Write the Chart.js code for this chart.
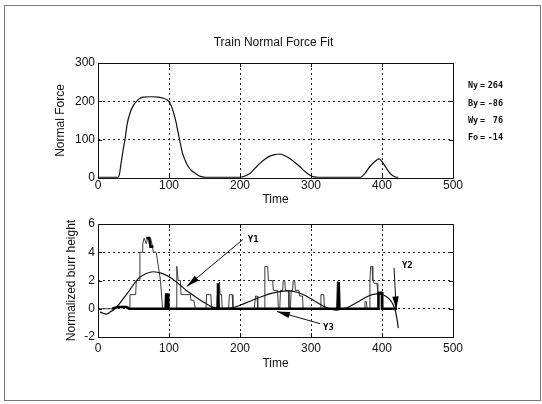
<!DOCTYPE html>
<html>
<head>
<meta charset="utf-8">
<script src="https://cdn.jsdelivr.net/npm/chart.js@4.4.0/dist/chart.umd.min.js"></script>
<style>
  html, body { margin: 0; padding: 0; background: #fff; }
  #fig { position: relative; width: 542px; height: 404px; overflow: hidden; }
  #frame { position: absolute; left: 4px; top: 5px; width: 535px; height: 394px; border: 1px solid #777; }
  #top { position: absolute; left: 0; top: 0; }
  #bottom { position: absolute; left: 0; top: 210px; }
</style>
</head>
<body>
<div id="fig">
  <div id="frame"></div>
  <canvas id="top" width="542" height="210"></canvas>
  <canvas id="bottom" width="542" height="194"></canvas>
</div>
<script>
'use strict';

// ---------- data ----------
let timeTicks = [0, 100, 200, 300, 400, 500];
let forceTicks = [0, 100, 200, 300];
let burrTicks = [-2, 0, 2, 4, 6];

let paramNames = ['Ny', 'By', 'Wy', 'Fo'];
let paramValues = ['264', '-86', '76', '-14'];

// normal force vs time [time, force]
let forceData = [[0, 2], [28, 2], [30, 8], [33, 45], [36, 80], [38, 100], [41, 140], [45, 169], [50, 190],
  [57, 205], [63, 211], [75, 212], [85, 211], [92, 208], [97, 204], [102, 193], [106, 173], [110, 145],
  [113, 117], [116, 90], [119, 65], [123, 45], [127, 30], [132, 19], [137, 12], [142, 6], [147, 3], [152, 2],
  [200, 2], [205, 4], [214, 12], [221, 25], [228, 38], [235, 49], [242, 57], [249, 61], [256, 62.6],
  [263, 58], [270, 51], [277, 41], [284, 30], [291, 18], [298, 8], [304, 3], [310, 2], [370, 2],
  [376, 12], [383, 30], [390, 43], [396, 50], [401, 40], [406, 26], [411, 13], [416, 5], [420, 2], [423, 2]];

// measured burr height (stepped)
let burrMeasured = [[0, 0], [20, 0], [22, 0.1], [44, 0.1], [45, 1], [53, 1], [54, 2], [58, 2], [59, 4], [62, 4],
  [63, 4.6], [65, 5], [68, 4.6], [70, 5], [74, 5], [76, 4.6], [78, 4], [82, 4], [85, 3], [88, 2], [91, 0],
  [94, 0], [95, 1], [99, 1], [100, 0], [110, 0], [111, 3], [113, 2], [116, 2], [117, 1], [130, 1],
  [131, 0.6], [135, 0.6], [137, 0], [152, 0], [153, 1], [159, 1], [160, 0], [167, 0], [168, 1], [170, 1],
  [171, 1.9], [172, 1], [174, 1], [175, 0], [184, 0], [185, 1], [189, 1], [190, 0], [220, 0], [222, 0.9],
  [224, 0.9], [225, 0], [234, 0], [235, 3], [239, 3], [240, 2], [246, 2], [247, 1.3], [253, 1.3], [254, 0],
  [256, 0], [257, 1.3], [260, 1.3], [261, 2], [263, 2], [264, 1.3], [268, 1.3], [269, 0], [271, 0],
  [272, 1.3], [274, 1.3], [275, 2], [277, 2], [278, 1.3], [283, 1.3], [284, 0.9], [288, 0.9], [289, 0],
  [313, 0], [314, 1], [318, 1], [319, 0], [336, 0], [337, 1.9], [339, 1.9], [340, 0], [375, 0], [376, 0.5],
  [378, 0.5], [379, 0], [382, 0], [383, 2], [384, 3], [386, 3], [387, 2], [389, 1.8], [393, 1.8],
  [394, 1.2], [400, 1.2], [401, 0], [420, 0]];

// fitted curve
let burrFit = [[3, -0.22], [7, -0.32], [12, -0.38], [18, -0.2], [24, 0], [30, 0.35], [43, 1.2], [57, 2.15],
  [68, 2.5], [78, 2.62], [90, 2.5], [104, 2.15], [115, 1.7], [127, 1.2], [140, 0.75], [151, 0.4],
  [160, 0.15], [170, 0.03], [180, 0.02], [190, 0.08], [200, 0.25], [215, 0.55], [230, 0.85], [247, 1.12],
  [260, 1.25], [270, 1.27], [282, 1.15], [294, 0.88], [305, 0.55], [317, 0.2], [327, 0], [336, -0.1],
  [345, -0.02], [355, 0.18], [364, 0.42], [375, 0.75], [385, 0.98], [395, 1.06], [403, 0.95],
  [411, 0.64], [416, 0.25], [419, -0.2], [421, -0.7], [423, -1.37]];

// detected burrs (heavy line), null breaks the line
let burrDetected = [[20, 0], [28, 0.12], [40, 0.12], [44, 0], [96, 0], [96, 1], [99, 1], [99, 0], [168, 0],
  [169, 1.8], [170, 0], [338, 0], [339, 1.9], [340, 0], [395, 0], [395, 1.1], [400, 1.1], [400, 0],
  [421, 0], [421, null], [68, 5], [72, 5], [74, 4.4], [78, 4.4]];

// annotation arrows [from, to] in data units, and their labels
let arrowY1 = [[204, 4.9], [125, 1.58]];
let arrowY2 = [[417, 2.9], [420, -0.05]];
let arrowY3 = [[313, -1.06], [252, -0.19]];
let arrowLabels = [['Y1', 211, 4.92], ['Y2', 428, 3.08], ['Y3', 317, -1.31]];

// ---------- helpers ----------
Chart.defaults.color = '#111';
Chart.defaults.font.family = '"Liberation Sans", Arial, sans-serif';
Chart.defaults.font.size = 12;

function toPoints(arr) {
  return arr.map(p => ({ x: p[0], y: p[1] }));
}

function makeAxis(tickList, min, max, extra) {
  let axis = {
    type: 'linear',
    min: min,
    max: max,
    afterBuildTicks: s => { s.ticks = tickList.map(v => ({ value: v })); },
    grid: { color: '#222', lineWidth: 1, drawTicks: false, borderDash: [2, 3] },
    border: { display: false, dash: [2, 3] },
    ticks: { padding: 3, font: { size: 12 } }
  };
  return Object.assign(axis, extra);
}

// axes box + inward ticks
let boxPlugin = {
  id: 'box',
  afterDraw(chart) {
    let { ctx, chartArea: a, scales } = chart;
    ctx.save();
    ctx.strokeStyle = '#111';
    ctx.lineWidth = 1;
    ctx.strokeRect(Math.round(a.left) + 0.5, Math.round(a.top) + 0.5, a.right - a.left, a.bottom - a.top);
    ctx.beginPath();
    scales.x.ticks.forEach(t => {
      let px = Math.round(scales.x.getPixelForValue(t.value)) + 0.5;
      ctx.moveTo(px, a.bottom); ctx.lineTo(px, a.bottom - 4);
      ctx.moveTo(px, a.top); ctx.lineTo(px, a.top + 4);
    });
    scales.y.ticks.forEach(t => {
      let py = Math.round(scales.y.getPixelForValue(t.value)) + 0.5;
      ctx.moveTo(a.left, py); ctx.lineTo(a.left + 4, py);
      ctx.moveTo(a.right, py); ctx.lineTo(a.right - 4, py);
    });
    ctx.stroke();
    ctx.restore();
  }
};

// title and fit parameters for the top axes
let topTextPlugin = {
  id: 'topText',
  afterDraw(chart) {
    let { ctx, chartArea: a } = chart;
    ctx.save();
    ctx.fillStyle = '#111';
    ctx.font = '12px "Liberation Sans", Arial, sans-serif';
    ctx.textAlign = 'center';
    ctx.textBaseline = 'middle';
    ctx.fillText('Train Normal Force Fit', (a.left + a.right) / 2 - 2, 43);

    ctx.font = 'bold 8.5px "DejaVu Sans Mono", monospace';
    for (let i = 0; i < paramNames.length; i++) {
      let y = a.top + 23 + i * 17.3;
      ctx.textAlign = 'left';
      ctx.fillText(paramNames[i], a.right + 15, y);
      ctx.fillText('=', a.right + 27, y);
      ctx.textAlign = 'right';
      ctx.fillText(paramValues[i], a.right + 50, y);
    }
    ctx.restore();
  }
};

function drawArrow(chart, arrow) {
  let { ctx, scales } = chart;
  let x0 = scales.x.getPixelForValue(arrow[0][0]);
  let y0 = scales.y.getPixelForValue(arrow[0][1]);
  let x1 = scales.x.getPixelForValue(arrow[1][0]);
  let y1 = scales.y.getPixelForValue(arrow[1][1]);
  let ang = Math.atan2(y1 - y0, x1 - x0);
  ctx.beginPath();
  ctx.moveTo(x0, y0);
  ctx.lineTo(x1, y1);
  ctx.stroke();
  let len = 13, half = 3.2;
  let bx = x1 - Math.cos(ang) * len;
  let by = y1 - Math.sin(ang) * len;
  ctx.beginPath();
  ctx.moveTo(x1, y1);
  ctx.lineTo(bx - Math.sin(ang) * half, by + Math.cos(ang) * half);
  ctx.lineTo(bx + Math.sin(ang) * half, by - Math.cos(ang) * half);
  ctx.closePath();
  ctx.fill();
}

let arrowPlugin = {
  id: 'arrows',
  afterDatasetsDraw(chart) {
    let { ctx, scales } = chart;
    ctx.save();
    ctx.strokeStyle = '#111';
    ctx.fillStyle = '#000';
    ctx.lineWidth = 1;
    drawArrow(chart, arrowY1);
    drawArrow(chart, arrowY2);
    drawArrow(chart, arrowY3);
    ctx.font = 'bold 9px "DejaVu Sans Mono", monospace';
    ctx.textAlign = 'left';
    ctx.textBaseline = 'middle';
    arrowLabels.forEach(l => {
      ctx.fillText(l[0], scales.x.getPixelForValue(l[1]), scales.y.getPixelForValue(l[2]));
    });
    ctx.restore();
  }
};

let baseOptions = {
  responsive: false,
  animation: false,
  plugins: { legend: { display: false }, tooltip: { enabled: false }, title: { display: false } },
  elements: { point: { radius: 0 } }
};

// ---------- top chart ----------
new Chart(document.getElementById('top'), {
  type: 'scatter',
  data: {
    datasets: [{
      data: toPoints(forceData),
      showLine: true,
      borderColor: '#111',
      borderWidth: 1.2,
      tension: 0.4,
      cubicInterpolationMode: 'monotone'
    }]
  },
  options: Object.assign({}, baseOptions, {
    layout: { padding: { left: 0, top: 63, right: 89, bottom: 0 } },
    scales: {
      x: makeAxis(timeTicks, 0, 500, {
        afterFit: s => { s.height = 32; },
        title: { display: true, text: 'Time', padding: { top: 0, bottom: 3 } },
        ticks: { padding: 0, font: { size: 12 } }
      }),
      y: makeAxis(forceTicks, 0, 300, {
        afterFit: s => { s.width = 98; },
        title: { display: true, text: 'Normal Force', padding: { top: 53, bottom: 0 } }
      })
    }
  }),
  plugins: [boxPlugin, topTextPlugin]
});

// ---------- bottom chart ----------
new Chart(document.getElementById('bottom'), {
  type: 'scatter',
  data: {
    datasets: [
      {
        data: toPoints(burrDetected),
        showLine: true,
        borderColor: '#000',
        borderWidth: 2.6,
        spanGaps: false,
        order: 1
      },
      {
        data: toPoints(burrFit),
        showLine: true,
        borderColor: '#111',
        borderWidth: 1.2,
        tension: 0.4,
        cubicInterpolationMode: 'monotone',
        order: 2
      },
      {
        data: toPoints(burrMeasured),
        showLine: true,
        borderColor: '#3a3a3a',
        borderWidth: 1,
        order: 3
      }
    ]
  },
  options: Object.assign({}, baseOptions, {
    layout: { padding: { left: 0, top: 14, right: 89, bottom: 0 } },
    scales: {
      x: makeAxis(timeTicks, 0, 500, {
        afterFit: s => { s.height = 67; },
        title: { display: true, text: 'Time', padding: { top: 0, bottom: 33 } },
        ticks: { padding: 4, font: { size: 12 } }
      }),
      y: makeAxis(burrTicks, -2, 6, {
        afterFit: s => { s.width = 98; },
        title: { display: true, text: 'Normalized burr height', padding: { top: 64, bottom: 0 } }
      })
    }
  }),
  plugins: [boxPlugin, arrowPlugin]
});
</script>
</body>
</html>
